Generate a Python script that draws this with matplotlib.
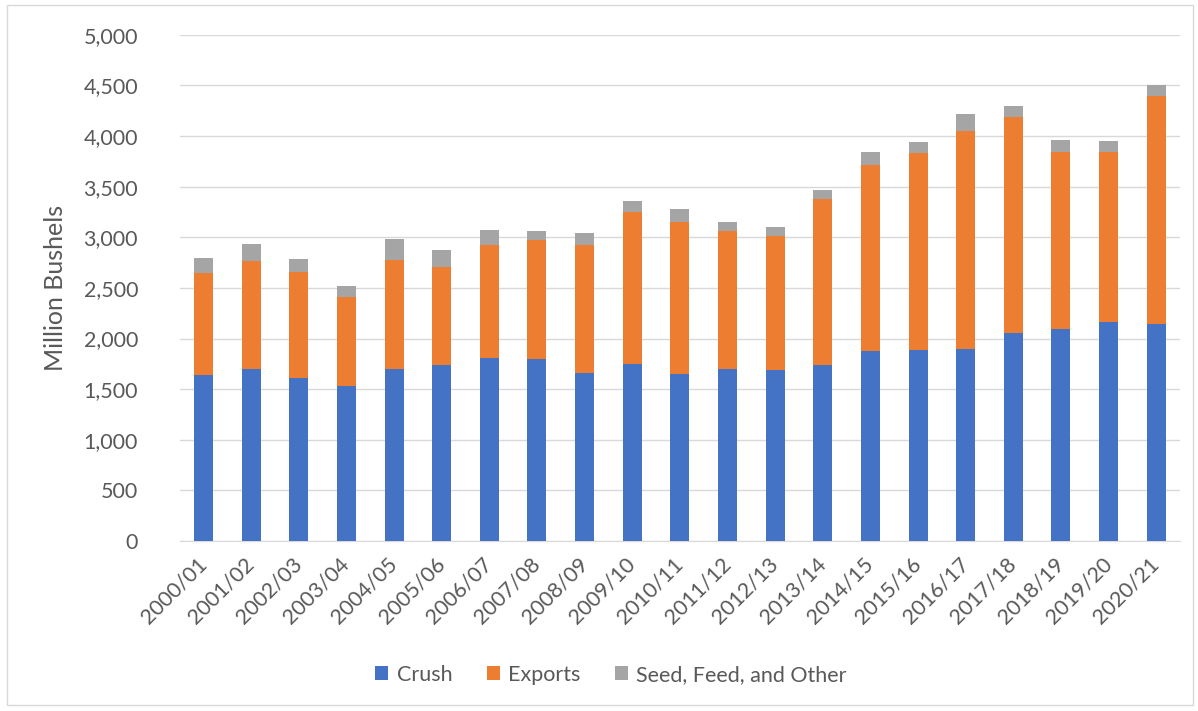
import matplotlib.pyplot as plt
import matplotlib.ticker as mticker
from matplotlib.patches import Rectangle

years = ['2000/01', '2001/02', '2002/03', '2003/04', '2004/05', '2005/06', '2006/07',
         '2007/08', '2008/09', '2009/10', '2010/11', '2011/12', '2012/13', '2013/14',
         '2014/15', '2015/16', '2016/17', '2017/18', '2018/19', '2019/20', '2020/21']
crush = [1640, 1700, 1610, 1530, 1700, 1740, 1810, 1800, 1660, 1750, 1650,
         1700, 1690, 1735, 1875, 1890, 1900, 2055, 2090, 2165, 2140]
exports = [1010, 1065, 1050, 885, 1080, 965, 1115, 1175, 1265, 1500, 1505,
           1360, 1320, 1640, 1840, 1940, 2150, 2130, 1750, 1680, 2260]
other = [150, 165, 125, 105, 200, 165, 150, 90, 115, 110, 120,
         95, 95, 95, 130, 115, 165, 110, 120, 105, 100]

plt.rcParams['font.family'] = ['Lato', 'DejaVu Sans']
txt = '#595959'

fig = plt.figure(figsize=(11.98, 7.11), dpi=100)
ax = fig.add_axes([0.150, 0.239, 0.835, 0.712])

x = list(range(len(years)))
w = 0.4
base2 = [c + e for c, e in zip(crush, exports)]
ax.bar(x, crush, width=w, color='#4472C4', label='Crush', zorder=3)
ax.bar(x, exports, width=w, bottom=crush, color='#ED7D31', label='Exports', zorder=3)
ax.bar(x, other, width=w, bottom=base2, color='#A5A5A5', label='Seed, Feed, and Other', zorder=3)

ax.set_xlim(-0.5, len(years) - 0.5)
ax.set_ylim(0, 5000)
ax.yaxis.set_major_locator(mticker.MultipleLocator(500))
ax.yaxis.set_major_formatter(mticker.StrMethodFormatter('{x:,.0f}'))
ax.grid(axis='y', color='#D9D9D9', linewidth=1, zorder=0)
for s in ['top', 'right', 'left']:
    ax.spines[s].set_visible(False)
ax.spines['bottom'].set_color('#D9D9D9')
ax.tick_params(axis='y', length=0, labelsize=15.5, colors=txt, pad=30)
ax.tick_params(axis='x', length=0, labelsize=15.5, colors=txt, pad=14)
ax.set_xticks(x)
ax.set_xticklabels(years, rotation=45, ha='right', va='center', rotation_mode='anchor')
ax.set_ylabel('Million Bushels', fontsize=18, color=txt, labelpad=12)

leg = fig.legend(loc='center', bbox_to_anchor=(0.51, 0.051), ncol=3, frameon=False,
                 fontsize=15.5, handlelength=0.6, handleheight=0.6, columnspacing=1.6,
                 handletextpad=0.4)
for t in leg.get_texts():
    t.set_color(txt)

fig.patches.append(Rectangle((0.006, 0.008), 0.99, 0.985, transform=fig.transFigure,
                             fill=False, edgecolor='#D9D9D9', linewidth=1))

fig.savefig('out.png', dpi=100)
